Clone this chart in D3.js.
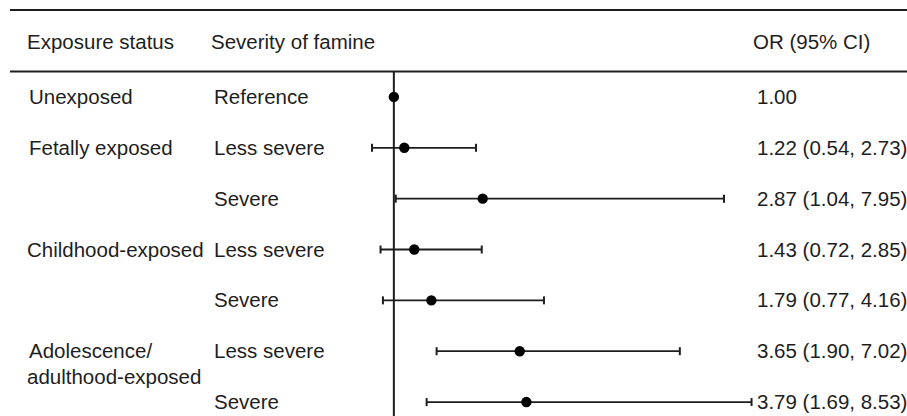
<!DOCTYPE html>
<html><head><meta charset="utf-8">
<script src="https://cdn.jsdelivr.net/npm/d3@7"></script>
<style>body{margin:0;background:#fff;}svg{display:block;font-family:"Liberation Sans",Arial,sans-serif;}</style>
</head><body><div id="chart"></div>
<script>
const exposureLabels = [["Unexposed"],["Fetally exposed"],[],["Childhood-exposed"],[],["Adolescence/","adulthood-exposed"],[]];
const severity = ["Reference","Less severe","Severe","Less severe","Severe","Less severe","Severe"];
const orValues = [1.00,1.22,2.87,1.43,1.79,3.65,3.79];
const ciLower = [null,0.54,1.04,0.72,0.77,1.90,1.69];
const ciUpper = [null,2.73,7.95,2.85,4.16,7.02,8.53];
const orText = ["1.00","1.22 (0.54, 2.73)","2.87 (1.04, 7.95)","1.43 (0.72, 2.85)","1.79 (0.77, 4.16)","3.65 (1.90, 7.02)","3.79 (1.69, 8.53)"];
const headers = ["Exposure status","Severity of famine","OR (95% CI)"];

const W=907,H=416;
const svg=d3.select("#chart").append("svg").attr("width",W).attr("height",H);
const ink="#1e1e1e";
const fs=20.5;

const x=d3.scaleLinear().domain([0.54,7.95]).range([372,724]);
const y=d3.scaleBand().domain(d3.range(severity.length)).range([71.5,427.5]).paddingInner(0).paddingOuter(0);
const cy=i=>y(i)+y.bandwidth()/2;

// rules
svg.append("line").attr("x1",10).attr("x2",W).attr("y1",10).attr("y2",10).attr("stroke",ink).attr("stroke-width",2);
svg.append("line").attr("x1",10).attr("x2",W).attr("y1",71.5).attr("y2",71.5).attr("stroke",ink).attr("stroke-width",2);

// headers
const hx=[27,211,753];
svg.selectAll("text.h").data(headers).join("text").attr("class","h")
  .attr("x",(d,i)=>hx[i]).attr("y",49).attr("font-size",fs).attr("fill",ink).text(d=>d);

// reference line
svg.append("line").attr("x1",x(1)).attr("x2",x(1)).attr("y1",71.5).attr("y2",H).attr("stroke",ink).attr("stroke-width",2);

const rows=svg.selectAll("g.row").data(d3.range(severity.length)).join("g").attr("class","row");

rows.each(function(i){
  const g=d3.select(this);
  const c=cy(i);
  exposureLabels[i].forEach((t,k)=>{
    g.append("text").attr("x",k===0&&i!==3?29:27).attr("y",c+7+k*25.5).attr("font-size",fs).attr("fill",ink).text(t);
  });
  g.append("text").attr("x",214).attr("y",c+7).attr("font-size",fs).attr("fill",ink).text(severity[i]);
  g.append("text").attr("x",757).attr("y",c+7).attr("font-size",fs).attr("fill",ink).text(orText[i]);
  if(ciLower[i]!=null){
    g.append("line").attr("x1",x(ciLower[i])).attr("x2",x(ciUpper[i])).attr("y1",c).attr("y2",c).attr("stroke",ink).attr("stroke-width",1.8);
    [ciLower[i],ciUpper[i]].forEach(v=>{
      g.append("line").attr("x1",x(v)).attr("x2",x(v)).attr("y1",c-4).attr("y2",c+4).attr("stroke",ink).attr("stroke-width",2);
    });
  }
  g.append("circle").attr("cx",x(orValues[i])).attr("cy",c).attr("r",5.2).attr("fill","#000");
});
</script></body></html>
